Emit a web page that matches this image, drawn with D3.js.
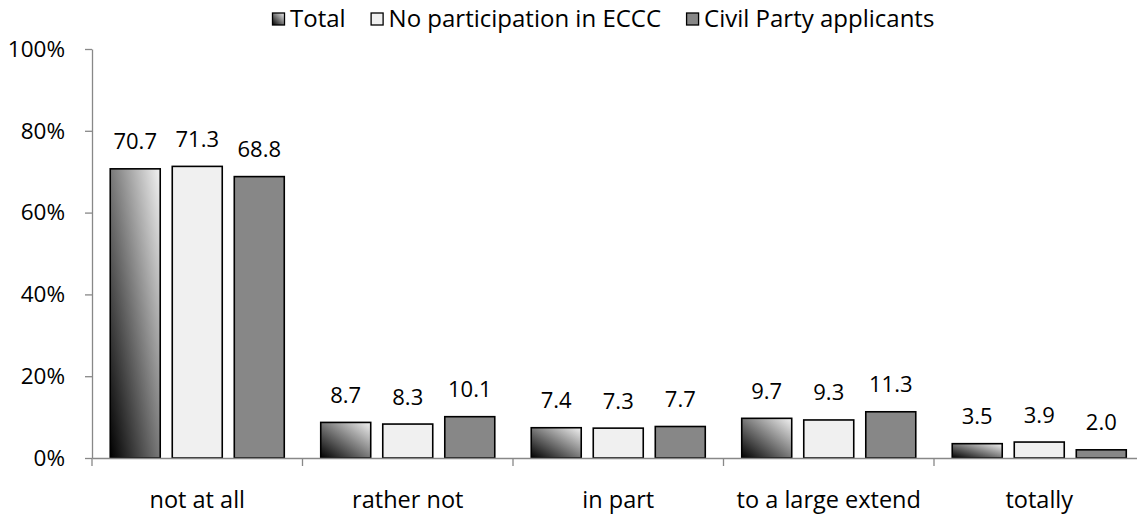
<!DOCTYPE html>
<html>
<head>
<meta charset="utf-8">
<script src="https://cdn.jsdelivr.net/npm/d3@7"></script>
<style>
  html, body { margin: 0; padding: 0; background: #fff; }
  svg { display: block; font-family: "Open Sans", sans-serif; }
</style>
</head>
<body>
<svg id="chart" width="1137" height="515"></svg>
<script>
const categories = ["not at all", "rather not", "in part", "to a large extend", "totally"];
const seriesNames = ["Total", "No participation in ECCC", "Civil Party applicants"];
const totalValues = [70.7, 8.7, 7.4, 9.7, 3.5];
const noParticipationValues = [71.3, 8.3, 7.3, 9.3, 3.9];
const civilPartyValues = [68.8, 10.1, 7.7, 11.3, 2.0];
const yTicks = [0, 20, 40, 60, 80, 100];

const seriesValues = [totalValues, noParticipationValues, civilPartyValues];
const fills = ["url(#gradTotal)", "#f0f0f0", "#878787"];

const svg = d3.select("#chart");
const fontSize = 22;

const defs = svg.append("defs");
const grad = defs.append("linearGradient")
  .attr("id", "gradTotal")
  .attr("x1", 0).attr("y1", 1).attr("x2", 1).attr("y2", 0);
grad.append("stop").attr("offset", "0%").attr("stop-color", "#000");
grad.append("stop").attr("offset", "100%").attr("stop-color", "#f2f2f2");

const x0 = d3.scaleBand().domain(categories).range([92, 1144.5]).paddingInner(0).paddingOuter(0);
const x1 = d3.scaleBand().domain(seriesNames).range([0, x0.bandwidth()])
  .paddingInner(0.194).paddingOuter(0.294);
const y = d3.scaleLinear().domain([0, 100]).range([458, 49]);

// Bars
const groups = svg.append("g").selectAll("g")
  .data(categories).join("g")
  .attr("transform", d => `translate(${x0(d)},0)`);

groups.selectAll("rect")
  .data((c, ci) => seriesNames.map((s, si) => ({ s, si, v: seriesValues[si][ci] })))
  .join("rect")
  .attr("x", d => x1(d.s))
  .attr("y", d => y(d.v))
  .attr("width", x1.bandwidth())
  .attr("height", d => y(0) - y(d.v))
  .attr("fill", d => fills[d.si])
  .attr("stroke", "#000")
  .attr("stroke-width", 1.6);

groups.selectAll("text.val")
  .data((c, ci) => seriesNames.map((s, si) => ({ s, si, v: seriesValues[si][ci] })))
  .join("text")
  .attr("class", "val")
  .attr("x", d => x1(d.s) + x1.bandwidth() / 2)
  .attr("y", d => y(d.v) - 19.5)
  .attr("text-anchor", "middle")
  .attr("font-size", fontSize)
  .attr("fill", "#000")
  .text(d => d.v.toFixed(1));

// Y axis
const yAxis = svg.append("g")
  .attr("transform", "translate(92,0)")
  .call(d3.axisLeft(y).tickValues(yTicks).tickFormat(d => d + "%").tickSize(7).tickSizeOuter(0).tickPadding(20));
yAxis.select(".domain").attr("stroke", "#888").attr("stroke-width", 1.3);
yAxis.selectAll(".tick line").attr("stroke", "#888").attr("stroke-width", 1.3);
yAxis.selectAll(".tick text").attr("font-size", 22.5).attr("font-family", "Open Sans").attr("fill", "#000");

// X axis
const xAxis = svg.append("g")
  .attr("transform", `translate(0,${y(0)})`)
  .call(d3.axisBottom(x0).tickSize(0).tickSizeOuter(0).tickPadding(33));
xAxis.select(".domain").attr("stroke", "#888").attr("stroke-width", 1.3);
xAxis.selectAll(".tick text").attr("font-size", 23.5).attr("font-family", "Open Sans").attr("fill", "#000");

// Category boundary ticks
const boundaries = categories.map(c => x0(c)).concat([x0.range()[1]]);
xAxis.selectAll("line.bound")
  .data(boundaries).join("line")
  .attr("class", "bound")
  .attr("x1", d => d).attr("x2", d => d)
  .attr("y1", 0).attr("y2", 8)
  .attr("stroke", "#888").attr("stroke-width", 1.3);

// Legend
const legend = svg.append("g").attr("transform", "translate(272,0)");
let lx = 0;
seriesNames.forEach((name, i) => {
  const g = legend.append("g").attr("transform", `translate(${lx},0)`);
  g.append("rect")
    .attr("x", 0.5).attr("y", 13)
    .attr("width", 12).attr("height", 12)
    .attr("fill", fills[i]).attr("stroke", "#000").attr("stroke-width", 1.3);
  const t = g.append("text")
    .attr("x", 18).attr("y", 27)
    .attr("font-size", 24)
    .attr("fill", "#000")
    .text(name);
  lx += 18 + t.node().getComputedTextLength() + 25;
});
</script>
</body>
</html>
